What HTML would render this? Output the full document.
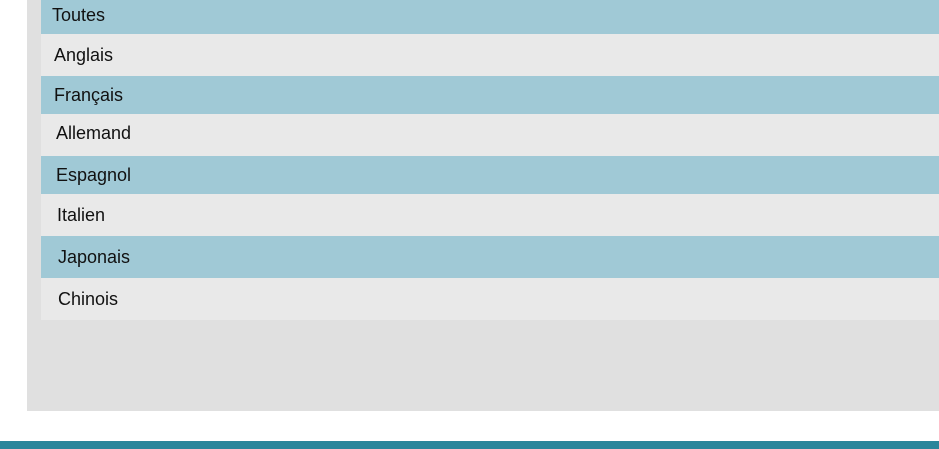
<!DOCTYPE html>
<html><head><meta charset="utf-8"><style>
html,body{margin:0;padding:0;width:939px;height:449px;overflow:hidden;background:#fff;font-family:"Liberation Sans",sans-serif;}
.panel{position:absolute;left:27px;top:0;width:912px;height:411px;background:#e0e0e0;}
.r{position:absolute;left:41px;width:898px;font-size:18px;color:#111;display:flex;align-items:center;}
.b{background:#a0c9d6;}
.l{background:#e9e9e9;}
.bar{position:absolute;left:0;top:441px;width:939px;height:8px;background:#29869b;}
</style></head><body>
<div class="panel"></div>
<div class="r b" style="top:0;height:34px;"><span style="margin-left:11px;margin-top:-4px">Toutes</span></div>
<div class="r l" style="top:34px;height:42px;"><span style="margin-left:13px">Anglais</span></div>
<div class="r b" style="top:76px;height:38px;"><span style="margin-left:13px">Français</span></div>
<div class="r l" style="top:114px;height:42px;"><span style="margin-left:15px;margin-top:-4px">Allemand</span></div>
<div class="r b" style="top:156px;height:38px;"><span style="margin-left:15px">Espagnol</span></div>
<div class="r l" style="top:194px;height:42px;"><span style="margin-left:16px">Italien</span></div>
<div class="r b" style="top:236px;height:42px;"><span style="margin-left:17px">Japonais</span></div>
<div class="r l" style="top:278px;height:42px;"><span style="margin-left:17px">Chinois</span></div>
<div class="bar"></div>
</body></html>
